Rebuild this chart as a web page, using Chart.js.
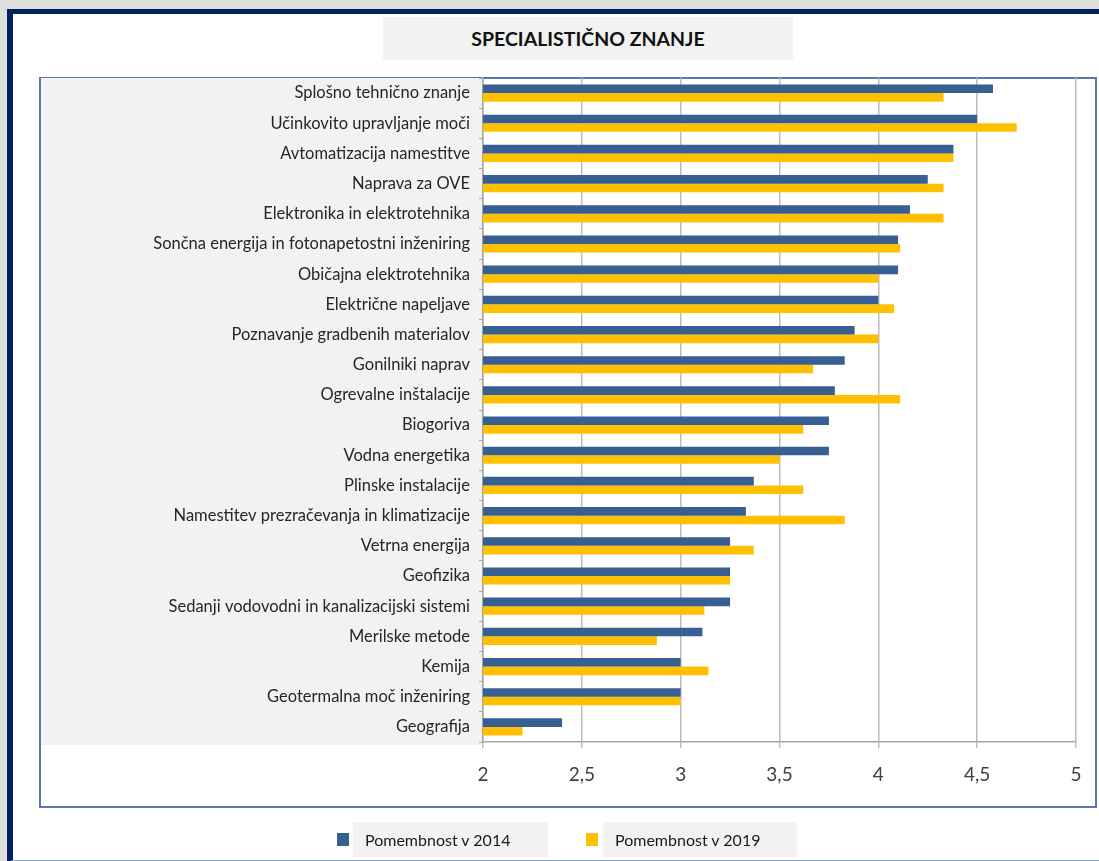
<!DOCTYPE html>
<html>
<head>
<meta charset="utf-8">
<script src="https://cdn.jsdelivr.net/npm/chart.js@4.4.0/dist/chart.umd.min.js"></script>
<style>
    body { margin: 0; width: 1099px; height: 861px; background: #dedede; position: relative; overflow: hidden; font-family: Lato, sans-serif; }
    #frame { position: absolute; left: 7px; top: 9px; width: 1100px; height: 846px; background: #fff;
             border-left: 6px solid #002060; border-top: 5px solid #002060; border-bottom: 2px solid #8ea3c4; }
    #title { position: absolute; left: 383px; top: 17px; width: 410px; height: 43px; background: #f2f2f2;
             font: bold 19.5px Lato, sans-serif; color: #111; display: flex; align-items: center; justify-content: center; }
    #plotBox { position: absolute; left: 39px; top: 77px; width: 1054px; height: 727px; border: 2px solid #5a78b0; }
    #chart { position: absolute; left: 0; top: 0; }
    .legendItem { position: absolute; top: 822px; height: 35px; background: #f2f2f2; font: 16px Lato, sans-serif;
                  color: #1a1a1a; display: flex; align-items: center; justify-content: flex-start;
                  box-sizing: border-box; padding-left: 12px; }
    .legendBox { position: absolute; top: 833px; width: 12px; height: 13px; }
</style>
</head>
<body>
<div id="frame"></div>
<div id="title">SPECIALISTIČNO ZNANJE</div>
<div id="plotBox"></div>
<canvas id="chart" width="1099" height="861"></canvas>
<div id="legend"></div>

<script>
// Chart data
const categories = [
    'Splošno tehnično znanje',
    'Učinkovito upravljanje moči',
    'Avtomatizacija namestitve',
    'Naprava za OVE',
    'Elektronika in elektrotehnika',
    'Sončna energija in fotonapetostni inženiring',
    'Običajna elektrotehnika',
    'Električne napeljave',
    'Poznavanje gradbenih materialov',
    'Gonilniki naprav',
    'Ogrevalne inštalacije',
    'Biogoriva',
    'Vodna energetika',
    'Plinske instalacije',
    'Namestitev prezračevanja in klimatizacije',
    'Vetrna energija',
    'Geofizika',
    'Sedanji vodovodni in kanalizacijski sistemi',
    'Merilske metode',
    'Kemija',
    'Geotermalna moč inženiring',
    'Geografija'
];

const values2014 = [4.58, 4.50, 4.38, 4.25, 4.16, 4.10, 4.10, 4.00, 3.88, 3.83, 3.78, 3.75,
                    3.75, 3.37, 3.33, 3.25, 3.25, 3.25, 3.11, 3.00, 3.00, 2.40];
const values2019 = [4.33, 4.70, 4.38, 4.33, 4.33, 4.11, 4.00, 4.08, 4.00, 3.67, 4.11, 3.62,
                    3.50, 3.62, 3.83, 3.37, 3.25, 3.12, 2.88, 3.14, 3.00, 2.20];

const seriesLabels = ['Pomembnost v 2014', 'Pomembnost v 2019'];
const xTicks = [2, 2.5, 3, 3.5, 4, 4.5, 5];

// Colors
const chartColors = {
    blue: '#375f92',
    yellow: '#ffc000',
    grid: '#bdbdbd',
    text: '#262626',
    labelBg: '#f2f2f2'
};

// Gray band behind the category labels
const labelBackground = {
    id: 'labelBackground',
    beforeDraw(chart) {
        const { ctx, chartArea } = chart;
        ctx.save();
        ctx.fillStyle = chartColors.labelBg;
        ctx.fillRect(41, chartArea.top, chartArea.left - 41, chartArea.bottom - chartArea.top + 3);
        ctx.restore();
    }
};

const ctx = document.getElementById('chart').getContext('2d');

new Chart(ctx, {
    type: 'bar',
    data: {
        labels: categories,
        datasets: [
            { label: seriesLabels[0], data: values2014, backgroundColor: chartColors.blue },
            { label: seriesLabels[1], data: values2019, backgroundColor: chartColors.yellow }
        ]
    },
    options: {
        indexAxis: 'y',
        responsive: false,
        animation: false,
        layout: { padding: { top: 78, right: 23, bottom: 56, left: 0 } },
        datasets: {
            bar: { categoryPercentage: 0.57, barPercentage: 1.0 }
        },
        plugins: {
            legend: { display: false },
            tooltip: { enabled: false }
        },
        scales: {
            x: {
                min: 2,
                max: 5,
                afterBuildTicks: scale => { scale.ticks = xTicks.map(v => ({ value: v })); },
                afterFit: scale => { scale.height = 63; },
                grid: { color: chartColors.grid, lineWidth: 1.5, tickLength: 6, drawTicks: true },
                border: { color: '#a6a6a6', width: 1.5 },
                ticks: {
                    color: '#404040',
                    padding: 15,
                    font: { family: 'Lato', size: 19 },
                    callback: value => String(value).replace('.', ',')
                }
            },
            y: {
                afterFit: scale => { scale.width = 483; },
                grid: { drawOnChartArea: false, offset: true, tickLength: 4, color: '#a6a6a6' },
                border: { color: '#a6a6a6', width: 1.5 },
                ticks: {
                    color: chartColors.text,
                    padding: 9,
                    autoSkip: false,
                    font: { family: 'Lato', size: 16.5 }
                }
            }
        }
    },
    plugins: [labelBackground]
});

// Legend with gray text boxes
const legendItems = [
    { label: seriesLabels[0], color: chartColors.blue, boxLeft: 337, textLeft: 353, textWidth: 195 },
    { label: seriesLabels[1], color: chartColors.yellow, boxLeft: 586, textLeft: 603, textWidth: 194 }
];
const legendEl = document.getElementById('legend');
legendItems.forEach(item => {
    const box = document.createElement('div');
    box.className = 'legendBox';
    box.style.left = item.boxLeft + 'px';
    box.style.background = item.color;
    legendEl.appendChild(box);

    const text = document.createElement('div');
    text.className = 'legendItem';
    text.style.left = item.textLeft + 'px';
    text.style.width = item.textWidth + 'px';
    text.textContent = item.label;
    legendEl.appendChild(text);
});
</script>
</body>
</html>
